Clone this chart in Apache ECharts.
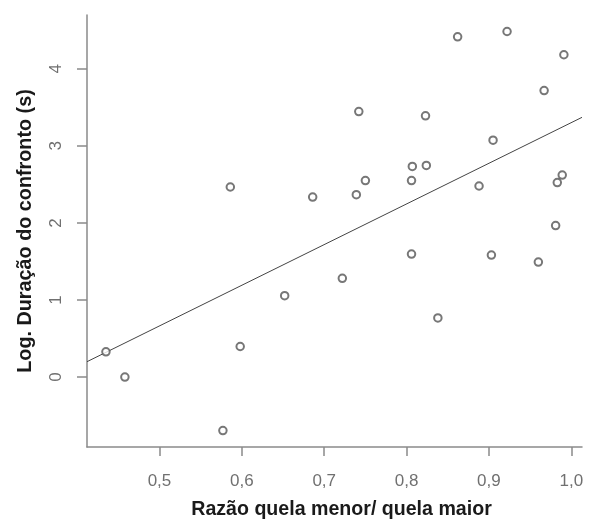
<!DOCTYPE html>
<html>
<head>
<meta charset="utf-8">
<script src="https://cdn.jsdelivr.net/npm/echarts@6/dist/echarts.min.js"></script>
<style>
html,body{margin:0;padding:0;background:#fff;}
#chart{width:589px;height:520px;}
</style>
</head>
<body>
<div id="chart"></div>
<script>
var xValues = [0.435,0.458,0.577,0.598,0.586,0.652,0.686,0.722,0.739,0.750,0.742,0.806,0.807,0.824,0.823,0.806,0.838,0.862,0.888,0.903,0.905,0.922,0.960,0.967,0.981,0.983,0.989,0.991];
var yValues = [0.327,0.000,-0.695,0.396,2.466,1.056,2.336,1.281,2.367,2.549,3.445,2.549,2.733,2.746,3.389,1.595,0.767,4.415,2.479,1.582,3.074,4.484,1.492,3.717,1.966,2.523,2.621,4.182];
var fitX = [0.412, 1.013];
var fitY = [0.199, 3.37];
var xTicks = [0.5,0.6,0.7,0.8,0.9,1.0];
var yTicks = [0,1,2,3,4];
var xTitle = 'Razão quela menor/ quela maior';
var yTitle = 'Log. Duração do confronto (s)';

var points = xValues.map(function(x,i){return [x,yValues[i]];});
var fitLine = fitX.map(function(x,i){return [x,fitY[i]];});

var axisColor = '#8a8a8a';
var labelColor = '#707070';
var chart = echarts.init(document.getElementById('chart'), null, {renderer:'canvas'});
chart.setOption({
  animation:false,
  backgroundColor:'#fff',
  grid:{left:87, top:15, width:495, height:432, containLabel:false, outerBoundsMode:'none'},
  xAxis:{
    type:'value', min:0.412, max:1.013,
    axisLine:{show:true, onZero:false, lineStyle:{color:axisColor, width:1.5}},
    axisTick:{show:true, customValues:xTicks, length:9, lineStyle:{color:axisColor, width:1.5}},
    axisLabel:{customValues:xTicks, margin:26, color:labelColor, fontSize:17, fontFamily:'Liberation Sans, Arial, sans-serif',
      formatter:function(v){return v.toFixed(1).replace('.',',');}},
    splitLine:{show:false},
    name:xTitle, nameLocation:'middle', nameGap:53,
    nameTextStyle:{fontSize:19.6, fontWeight:'bold', color:'#1a1a1a', fontFamily:'Liberation Sans, Arial, sans-serif', padding:[0,0,0,14]}
  },
  yAxis:{
    type:'value', min:-0.908, max:4.698,
    axisLine:{show:true, onZero:false, lineStyle:{color:axisColor, width:1.5}},
    axisTick:{show:true, customValues:yTicks, length:10, lineStyle:{color:axisColor, width:1.5}},
    axisLabel:{customValues:yTicks, margin:22, rotate:90, color:labelColor, fontSize:17, fontFamily:'Liberation Sans, Arial, sans-serif',
      formatter:function(v){return String(v);}},
    splitLine:{show:false},
    name:yTitle, nameLocation:'middle', nameGap:51, nameRotate:90,
    nameTextStyle:{fontSize:19.8, fontWeight:'bold', color:'#1a1a1a', fontFamily:'Liberation Sans, Arial, sans-serif'}
  },
  series:[
    {type:'line', data:fitLine, symbol:'none', lineStyle:{color:'#444', width:1}, silent:true, z:1},
    {type:'scatter', data:points, symbol:'emptyCircle', symbolSize:7.5,
      itemStyle:{color:'#555', borderColor:'#555', borderWidth:0.9}, z:2}
  ]
});
</script>
</body>
</html>
